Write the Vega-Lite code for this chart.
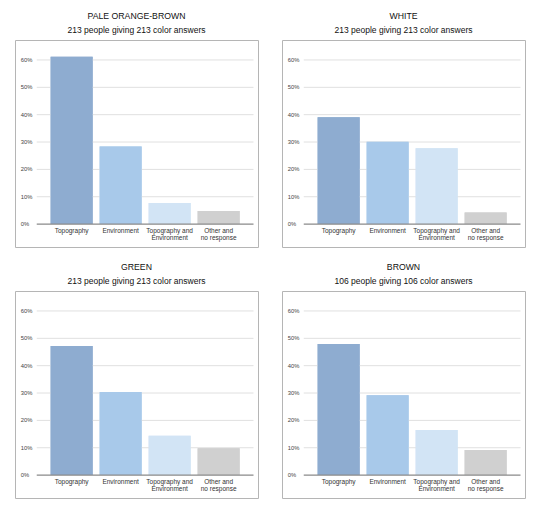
{
  "$schema": "https://vega.github.io/schema/vega-lite/v6.json",
  "padding": {"left": 14, "top": 11, "right": 5, "bottom": 5},
  "background": "white",
  "datasets": {
    "bars": [
      {"panel": "PALE ORANGE-BROWN", "cat": "Topography", "pct": 0.612},
      {"panel": "PALE ORANGE-BROWN", "cat": "Environment", "pct": 0.284},
      {"panel": "PALE ORANGE-BROWN", "cat": "Topography and Environment", "pct": 0.077},
      {"panel": "PALE ORANGE-BROWN", "cat": "Other and no response", "pct": 0.048},
      {"panel": "WHITE", "cat": "Topography", "pct": 0.391},
      {"panel": "WHITE", "cat": "Environment", "pct": 0.301},
      {"panel": "WHITE", "cat": "Topography and Environment", "pct": 0.277},
      {"panel": "WHITE", "cat": "Other and no response", "pct": 0.042},
      {"panel": "GREEN", "cat": "Topography", "pct": 0.472},
      {"panel": "GREEN", "cat": "Environment", "pct": 0.304},
      {"panel": "GREEN", "cat": "Topography and Environment", "pct": 0.144},
      {"panel": "GREEN", "cat": "Other and no response", "pct": 0.098},
      {"panel": "BROWN", "cat": "Topography", "pct": 0.479},
      {"panel": "BROWN", "cat": "Environment", "pct": 0.292},
      {"panel": "BROWN", "cat": "Topography and Environment", "pct": 0.165},
      {"panel": "BROWN", "cat": "Other and no response", "pct": 0.092}
    ],
    "ticks": [
      {"v": 0}, {"v": 0.1}, {"v": 0.2}, {"v": 0.3}, {"v": 0.4}, {"v": 0.5}, {"v": 0.6}
    ]
  },
  "concat": [
    {
      "title": {"text": "PALE ORANGE-BROWN", "subtitle": "213 people giving 213 color answers"},
      "width": 243, "height": 207,
      "layer": [
        {"data": {"name": "bars"}, "transform": [{"filter": "datum.panel == 'PALE ORANGE-BROWN'"}], "mark": {"type": "bar"},
         "encoding": {
           "x": {"field": "cat", "type": "nominal", "sort": null, "title": null, "scale": {"domain": ["Topography", "Environment", "Topography and Environment", "Other and no response"], "paddingInner": 0.143, "paddingOuter": 0.551, "align": 0.66},
                 "axis": {"offset": -23, "labelPadding": 3, "labelAngle": 0, "labelAlign": "center", "domain": false, "ticks": false, "grid": false, "labelFontSize": 6.5, "labelColor": "#333", "labelLineHeight": 7, "labelBaseline": "top", "minExtent": 0, "labelOverlap": false,
                          "labelExpr": "datum.value == 'Topography and Environment' ? ['Topography and', 'Environment'] : datum.value == 'Other and no response' ? ['Other and', 'no response'] : datum.label"}},
           "y": {"field": "pct", "type": "quantitative", "title": null, "axis": null, "scale": {"domain": [-0.0838, 0.673], "nice": false, "zero": false}},
           "color": {"field": "cat", "type": "nominal", "legend": null, "scale": {"domain": ["Topography", "Environment", "Topography and Environment", "Other and no response"], "range": ["#8eacd0", "#a8c9ea", "#d2e4f5", "#d0d0d0"]}}
         }},
        {"data": {"name": "ticks"}, "transform": [{"filter": "datum.v > 0"}], "mark": {"type": "rule", "color": "#e0e0e0", "strokeWidth": 1},
         "encoding": {
           "y": {"field": "v", "type": "quantitative", "title": null, "axis": null},
           "x": {"datum": "Topography", "type": "nominal", "bandPosition": -0.331, "title": null,
                 "axis": {"offset": -23, "labelPadding": 3, "labelAngle": 0, "labelAlign": "center", "domain": false, "ticks": false, "grid": false, "labelFontSize": 6.5, "labelColor": "#333", "labelLineHeight": 7, "labelBaseline": "top", "minExtent": 0, "labelOverlap": false,
                          "labelExpr": "datum.value == 'Topography and Environment' ? ['Topography and', 'Environment'] : datum.value == 'Other and no response' ? ['Other and', 'no response'] : datum.label"}},
           "x2": {"datum": "Other and no response", "bandPosition": 1.33}
         }},
        {"data": {"name": "bars"}, "transform": [{"filter": "datum.panel == 'PALE ORANGE-BROWN'"}], "mark": {"type": "bar"},
         "encoding": {
           "x": {"field": "cat", "type": "nominal", "sort": null, "title": null},
           "y": {"field": "pct", "type": "quantitative", "title": null, "axis": null},
           "color": {"field": "cat", "type": "nominal", "legend": null}
         }},
        {"data": {"name": "ticks"}, "mark": {"type": "text", "align": "left", "baseline": "middle", "fontSize": 5.8, "color": "#444"},
         "encoding": {
           "y": {"field": "v", "type": "quantitative", "title": null, "axis": null},
           "x": {"datum": "Topography", "type": "nominal", "bandPosition": -0.712, "title": null,
                 "axis": {"offset": -23, "labelPadding": 3, "labelAngle": 0, "labelAlign": "center", "domain": false, "ticks": false, "grid": false, "labelFontSize": 6.5, "labelColor": "#333", "labelLineHeight": 7, "labelBaseline": "top", "minExtent": 0, "labelOverlap": false,
                          "labelExpr": "datum.value == 'Topography and Environment' ? ['Topography and', 'Environment'] : datum.value == 'Other and no response' ? ['Other and', 'no response'] : datum.label"}},
           "text": {"field": "v", "type": "quantitative", "format": ".0%"}
         }},
        {"data": {"values": [{}]}, "mark": {"type": "rule", "color": "#8a8a8a", "strokeWidth": 1.2},
         "encoding": {
           "y": {"datum": 0, "type": "quantitative", "title": null, "axis": null},
           "x": {"datum": "Topography", "type": "nominal", "bandPosition": -0.331, "title": null,
                 "axis": {"offset": -23, "labelPadding": 3, "labelAngle": 0, "labelAlign": "center", "domain": false, "ticks": false, "grid": false, "labelFontSize": 6.5, "labelColor": "#333", "labelLineHeight": 7, "labelBaseline": "top", "minExtent": 0, "labelOverlap": false,
                          "labelExpr": "datum.value == 'Topography and Environment' ? ['Topography and', 'Environment'] : datum.value == 'Other and no response' ? ['Other and', 'no response'] : datum.label"}},
           "x2": {"datum": "Other and no response", "bandPosition": 1.33}
         }}
      ]
    },
    {
      "title": {"text": "WHITE", "subtitle": "213 people giving 213 color answers"},
      "width": 243, "height": 207,
      "layer": [
        {"data": {"name": "bars"}, "transform": [{"filter": "datum.panel == 'WHITE'"}], "mark": {"type": "bar"},
         "encoding": {
           "x": {"field": "cat", "type": "nominal", "sort": null, "title": null, "scale": {"domain": ["Topography", "Environment", "Topography and Environment", "Other and no response"], "paddingInner": 0.143, "paddingOuter": 0.551, "align": 0.66},
                 "axis": {"offset": -23, "labelPadding": 3, "labelAngle": 0, "labelAlign": "center", "domain": false, "ticks": false, "grid": false, "labelFontSize": 6.5, "labelColor": "#333", "labelLineHeight": 7, "labelBaseline": "top", "minExtent": 0, "labelOverlap": false,
                          "labelExpr": "datum.value == 'Topography and Environment' ? ['Topography and', 'Environment'] : datum.value == 'Other and no response' ? ['Other and', 'no response'] : datum.label"}},
           "y": {"field": "pct", "type": "quantitative", "title": null, "axis": null, "scale": {"domain": [-0.0838, 0.673], "nice": false, "zero": false}},
           "color": {"field": "cat", "type": "nominal", "legend": null, "scale": {"domain": ["Topography", "Environment", "Topography and Environment", "Other and no response"], "range": ["#8eacd0", "#a8c9ea", "#d2e4f5", "#d0d0d0"]}}
         }},
        {"data": {"name": "ticks"}, "transform": [{"filter": "datum.v > 0"}], "mark": {"type": "rule", "color": "#e0e0e0", "strokeWidth": 1},
         "encoding": {
           "y": {"field": "v", "type": "quantitative", "title": null, "axis": null},
           "x": {"datum": "Topography", "type": "nominal", "bandPosition": -0.331, "title": null,
                 "axis": {"offset": -23, "labelPadding": 3, "labelAngle": 0, "labelAlign": "center", "domain": false, "ticks": false, "grid": false, "labelFontSize": 6.5, "labelColor": "#333", "labelLineHeight": 7, "labelBaseline": "top", "minExtent": 0, "labelOverlap": false,
                          "labelExpr": "datum.value == 'Topography and Environment' ? ['Topography and', 'Environment'] : datum.value == 'Other and no response' ? ['Other and', 'no response'] : datum.label"}},
           "x2": {"datum": "Other and no response", "bandPosition": 1.33}
         }},
        {"data": {"name": "bars"}, "transform": [{"filter": "datum.panel == 'WHITE'"}], "mark": {"type": "bar"},
         "encoding": {
           "x": {"field": "cat", "type": "nominal", "sort": null, "title": null},
           "y": {"field": "pct", "type": "quantitative", "title": null, "axis": null},
           "color": {"field": "cat", "type": "nominal", "legend": null}
         }},
        {"data": {"name": "ticks"}, "mark": {"type": "text", "align": "left", "baseline": "middle", "fontSize": 5.8, "color": "#444"},
         "encoding": {
           "y": {"field": "v", "type": "quantitative", "title": null, "axis": null},
           "x": {"datum": "Topography", "type": "nominal", "bandPosition": -0.712, "title": null,
                 "axis": {"offset": -23, "labelPadding": 3, "labelAngle": 0, "labelAlign": "center", "domain": false, "ticks": false, "grid": false, "labelFontSize": 6.5, "labelColor": "#333", "labelLineHeight": 7, "labelBaseline": "top", "minExtent": 0, "labelOverlap": false,
                          "labelExpr": "datum.value == 'Topography and Environment' ? ['Topography and', 'Environment'] : datum.value == 'Other and no response' ? ['Other and', 'no response'] : datum.label"}},
           "text": {"field": "v", "type": "quantitative", "format": ".0%"}
         }},
        {"data": {"values": [{}]}, "mark": {"type": "rule", "color": "#8a8a8a", "strokeWidth": 1.2},
         "encoding": {
           "y": {"datum": 0, "type": "quantitative", "title": null, "axis": null},
           "x": {"datum": "Topography", "type": "nominal", "bandPosition": -0.331, "title": null,
                 "axis": {"offset": -23, "labelPadding": 3, "labelAngle": 0, "labelAlign": "center", "domain": false, "ticks": false, "grid": false, "labelFontSize": 6.5, "labelColor": "#333", "labelLineHeight": 7, "labelBaseline": "top", "minExtent": 0, "labelOverlap": false,
                          "labelExpr": "datum.value == 'Topography and Environment' ? ['Topography and', 'Environment'] : datum.value == 'Other and no response' ? ['Other and', 'no response'] : datum.label"}},
           "x2": {"datum": "Other and no response", "bandPosition": 1.33}
         }}
      ]
    },
    {
      "title": {"text": "GREEN", "subtitle": "213 people giving 213 color answers"},
      "width": 243, "height": 207,
      "layer": [
        {"data": {"name": "bars"}, "transform": [{"filter": "datum.panel == 'GREEN'"}], "mark": {"type": "bar"},
         "encoding": {
           "x": {"field": "cat", "type": "nominal", "sort": null, "title": null, "scale": {"domain": ["Topography", "Environment", "Topography and Environment", "Other and no response"], "paddingInner": 0.143, "paddingOuter": 0.551, "align": 0.66},
                 "axis": {"offset": -23, "labelPadding": 3, "labelAngle": 0, "labelAlign": "center", "domain": false, "ticks": false, "grid": false, "labelFontSize": 6.5, "labelColor": "#333", "labelLineHeight": 7, "labelBaseline": "top", "minExtent": 0, "labelOverlap": false,
                          "labelExpr": "datum.value == 'Topography and Environment' ? ['Topography and', 'Environment'] : datum.value == 'Other and no response' ? ['Other and', 'no response'] : datum.label"}},
           "y": {"field": "pct", "type": "quantitative", "title": null, "axis": null, "scale": {"domain": [-0.0838, 0.673], "nice": false, "zero": false}},
           "color": {"field": "cat", "type": "nominal", "legend": null, "scale": {"domain": ["Topography", "Environment", "Topography and Environment", "Other and no response"], "range": ["#8eacd0", "#a8c9ea", "#d2e4f5", "#d0d0d0"]}}
         }},
        {"data": {"name": "ticks"}, "transform": [{"filter": "datum.v > 0"}], "mark": {"type": "rule", "color": "#e0e0e0", "strokeWidth": 1},
         "encoding": {
           "y": {"field": "v", "type": "quantitative", "title": null, "axis": null},
           "x": {"datum": "Topography", "type": "nominal", "bandPosition": -0.331, "title": null,
                 "axis": {"offset": -23, "labelPadding": 3, "labelAngle": 0, "labelAlign": "center", "domain": false, "ticks": false, "grid": false, "labelFontSize": 6.5, "labelColor": "#333", "labelLineHeight": 7, "labelBaseline": "top", "minExtent": 0, "labelOverlap": false,
                          "labelExpr": "datum.value == 'Topography and Environment' ? ['Topography and', 'Environment'] : datum.value == 'Other and no response' ? ['Other and', 'no response'] : datum.label"}},
           "x2": {"datum": "Other and no response", "bandPosition": 1.33}
         }},
        {"data": {"name": "bars"}, "transform": [{"filter": "datum.panel == 'GREEN'"}], "mark": {"type": "bar"},
         "encoding": {
           "x": {"field": "cat", "type": "nominal", "sort": null, "title": null},
           "y": {"field": "pct", "type": "quantitative", "title": null, "axis": null},
           "color": {"field": "cat", "type": "nominal", "legend": null}
         }},
        {"data": {"name": "ticks"}, "mark": {"type": "text", "align": "left", "baseline": "middle", "fontSize": 5.8, "color": "#444"},
         "encoding": {
           "y": {"field": "v", "type": "quantitative", "title": null, "axis": null},
           "x": {"datum": "Topography", "type": "nominal", "bandPosition": -0.712, "title": null,
                 "axis": {"offset": -23, "labelPadding": 3, "labelAngle": 0, "labelAlign": "center", "domain": false, "ticks": false, "grid": false, "labelFontSize": 6.5, "labelColor": "#333", "labelLineHeight": 7, "labelBaseline": "top", "minExtent": 0, "labelOverlap": false,
                          "labelExpr": "datum.value == 'Topography and Environment' ? ['Topography and', 'Environment'] : datum.value == 'Other and no response' ? ['Other and', 'no response'] : datum.label"}},
           "text": {"field": "v", "type": "quantitative", "format": ".0%"}
         }},
        {"data": {"values": [{}]}, "mark": {"type": "rule", "color": "#8a8a8a", "strokeWidth": 1.2},
         "encoding": {
           "y": {"datum": 0, "type": "quantitative", "title": null, "axis": null},
           "x": {"datum": "Topography", "type": "nominal", "bandPosition": -0.331, "title": null,
                 "axis": {"offset": -23, "labelPadding": 3, "labelAngle": 0, "labelAlign": "center", "domain": false, "ticks": false, "grid": false, "labelFontSize": 6.5, "labelColor": "#333", "labelLineHeight": 7, "labelBaseline": "top", "minExtent": 0, "labelOverlap": false,
                          "labelExpr": "datum.value == 'Topography and Environment' ? ['Topography and', 'Environment'] : datum.value == 'Other and no response' ? ['Other and', 'no response'] : datum.label"}},
           "x2": {"datum": "Other and no response", "bandPosition": 1.33}
         }}
      ]
    },
    {
      "title": {"text": "BROWN", "subtitle": "106 people giving 106 color answers"},
      "width": 243, "height": 207,
      "layer": [
        {"data": {"name": "bars"}, "transform": [{"filter": "datum.panel == 'BROWN'"}], "mark": {"type": "bar"},
         "encoding": {
           "x": {"field": "cat", "type": "nominal", "sort": null, "title": null, "scale": {"domain": ["Topography", "Environment", "Topography and Environment", "Other and no response"], "paddingInner": 0.143, "paddingOuter": 0.551, "align": 0.66},
                 "axis": {"offset": -23, "labelPadding": 3, "labelAngle": 0, "labelAlign": "center", "domain": false, "ticks": false, "grid": false, "labelFontSize": 6.5, "labelColor": "#333", "labelLineHeight": 7, "labelBaseline": "top", "minExtent": 0, "labelOverlap": false,
                          "labelExpr": "datum.value == 'Topography and Environment' ? ['Topography and', 'Environment'] : datum.value == 'Other and no response' ? ['Other and', 'no response'] : datum.label"}},
           "y": {"field": "pct", "type": "quantitative", "title": null, "axis": null, "scale": {"domain": [-0.0838, 0.673], "nice": false, "zero": false}},
           "color": {"field": "cat", "type": "nominal", "legend": null, "scale": {"domain": ["Topography", "Environment", "Topography and Environment", "Other and no response"], "range": ["#8eacd0", "#a8c9ea", "#d2e4f5", "#d0d0d0"]}}
         }},
        {"data": {"name": "ticks"}, "transform": [{"filter": "datum.v > 0"}], "mark": {"type": "rule", "color": "#e0e0e0", "strokeWidth": 1},
         "encoding": {
           "y": {"field": "v", "type": "quantitative", "title": null, "axis": null},
           "x": {"datum": "Topography", "type": "nominal", "bandPosition": -0.331, "title": null,
                 "axis": {"offset": -23, "labelPadding": 3, "labelAngle": 0, "labelAlign": "center", "domain": false, "ticks": false, "grid": false, "labelFontSize": 6.5, "labelColor": "#333", "labelLineHeight": 7, "labelBaseline": "top", "minExtent": 0, "labelOverlap": false,
                          "labelExpr": "datum.value == 'Topography and Environment' ? ['Topography and', 'Environment'] : datum.value == 'Other and no response' ? ['Other and', 'no response'] : datum.label"}},
           "x2": {"datum": "Other and no response", "bandPosition": 1.33}
         }},
        {"data": {"name": "bars"}, "transform": [{"filter": "datum.panel == 'BROWN'"}], "mark": {"type": "bar"},
         "encoding": {
           "x": {"field": "cat", "type": "nominal", "sort": null, "title": null},
           "y": {"field": "pct", "type": "quantitative", "title": null, "axis": null},
           "color": {"field": "cat", "type": "nominal", "legend": null}
         }},
        {"data": {"name": "ticks"}, "mark": {"type": "text", "align": "left", "baseline": "middle", "fontSize": 5.8, "color": "#444"},
         "encoding": {
           "y": {"field": "v", "type": "quantitative", "title": null, "axis": null},
           "x": {"datum": "Topography", "type": "nominal", "bandPosition": -0.712, "title": null,
                 "axis": {"offset": -23, "labelPadding": 3, "labelAngle": 0, "labelAlign": "center", "domain": false, "ticks": false, "grid": false, "labelFontSize": 6.5, "labelColor": "#333", "labelLineHeight": 7, "labelBaseline": "top", "minExtent": 0, "labelOverlap": false,
                          "labelExpr": "datum.value == 'Topography and Environment' ? ['Topography and', 'Environment'] : datum.value == 'Other and no response' ? ['Other and', 'no response'] : datum.label"}},
           "text": {"field": "v", "type": "quantitative", "format": ".0%"}
         }},
        {"data": {"values": [{}]}, "mark": {"type": "rule", "color": "#8a8a8a", "strokeWidth": 1.2},
         "encoding": {
           "y": {"datum": 0, "type": "quantitative", "title": null, "axis": null},
           "x": {"datum": "Topography", "type": "nominal", "bandPosition": -0.331, "title": null,
                 "axis": {"offset": -23, "labelPadding": 3, "labelAngle": 0, "labelAlign": "center", "domain": false, "ticks": false, "grid": false, "labelFontSize": 6.5, "labelColor": "#333", "labelLineHeight": 7, "labelBaseline": "top", "minExtent": 0, "labelOverlap": false,
                          "labelExpr": "datum.value == 'Topography and Environment' ? ['Topography and', 'Environment'] : datum.value == 'Other and no response' ? ['Other and', 'no response'] : datum.label"}},
           "x2": {"datum": "Other and no response", "bandPosition": 1.33}
         }}
      ]
    }
  ],
  "columns": 2,
  "spacing": {"row": 14, "column": 22},
  "config": {
    "font": "Liberation Sans",
    "view": {"stroke": "#b5b5b5", "strokeWidth": 1},
    "title": {"fontSize": 8.7, "fontWeight": "normal", "color": "#111", "subtitleFontSize": 8.5, "subtitleColor": "#111", "subtitlePadding": 5, "offset": 6, "anchor": "middle", "font": "Liberation Sans", "subtitleFont": "Liberation Sans"},
    "axis": {"labelFont": "Liberation Sans"}
  }
}
